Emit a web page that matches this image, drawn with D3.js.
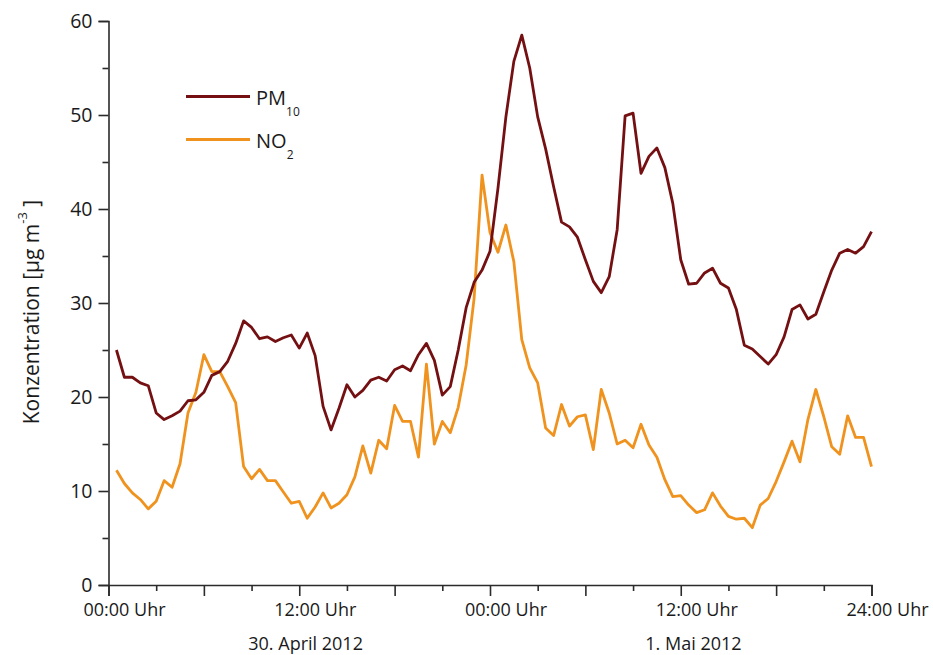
<!DOCTYPE html>
<html>
<head>
<meta charset="utf-8">
<script src="https://cdn.jsdelivr.net/npm/d3@7"></script>
<style>
  html, body { margin: 0; padding: 0; background: #fff; }
  svg { display: block; }
  text { font-family: "Open Sans", "DejaVu Sans", sans-serif; fill: #1a1a1a; }
</style>
</head>
<body>
<svg id="chart" width="933" height="655"></svg>
<script>
// ---- data (hours since 30 April 2012 00:00, half-hourly) ----
const hours = [
  0.5, 1, 1.5, 2, 2.5, 3, 3.5, 4, 4.5, 5, 5.5, 6, 6.5, 7, 7.5, 8,
  8.5, 9, 9.5, 10, 10.5, 11, 11.5, 12, 12.5, 13, 13.5, 14, 14.5, 15, 15.5, 16,
  16.5, 17, 17.5, 18, 18.5, 19, 19.5, 20, 20.5, 21, 21.5, 22, 22.5, 23, 23.5, 24,
  24.5, 25, 25.5, 26, 26.5, 27, 27.5, 28, 28.5, 29, 29.5, 30, 30.5, 31, 31.5, 32,
  32.5, 33, 33.5, 34, 34.5, 35, 35.5, 36, 36.5, 37, 37.5, 38, 38.5, 39, 39.5, 40,
  40.5, 41, 41.5, 42, 42.5, 43, 43.5, 44, 44.5, 45, 45.5, 46, 46.5, 47, 47.5, 48
];
const pm10 = [
  25.0, 22.1, 22.1, 21.5, 21.2, 18.3, 17.6, 18.0, 18.5, 19.6, 19.7, 20.5, 22.3, 22.7, 23.8, 25.7,
  28.1, 27.4, 26.2, 26.4, 25.9, 26.3, 26.6, 25.2, 26.8, 24.4, 19.0, 16.5, 18.8, 21.3, 20.0, 20.7,
  21.8, 22.1, 21.7, 22.9, 23.3, 22.8, 24.5, 25.7, 23.9, 20.2, 21.1, 25.0, 29.5, 32.2, 33.5, 35.5,
  42.2, 49.8, 55.7, 58.5, 55.0, 49.8, 46.4, 42.4, 38.6, 38.1, 37.0, 34.6, 32.3, 31.1, 32.8, 37.8,
  49.9, 50.2, 43.8, 45.6, 46.5, 44.4, 40.6, 34.6, 32.0, 32.1, 33.2, 33.7, 32.1, 31.6, 29.3, 25.5,
  25.1, 24.3, 23.5, 24.5, 26.4, 29.3, 29.8, 28.3, 28.8, 31.2, 33.5, 35.3, 35.7, 35.3, 36.0, 37.6
];
const no2 = [
  12.2, 10.8, 9.8, 9.1, 8.1, 8.9, 11.1, 10.4, 12.9, 18.3, 20.5, 24.5, 22.7, 22.7, 21.1, 19.4,
  12.6, 11.3, 12.3, 11.1, 11.1, 9.9, 8.7, 8.9, 7.1, 8.3, 9.8, 8.2, 8.7, 9.6, 11.5, 14.8,
  11.9, 15.4, 14.5, 19.1, 17.4, 17.4, 13.6, 23.5, 15.0, 17.4, 16.2, 18.9, 23.4, 30.5, 43.6, 37.5,
  35.4, 38.3, 34.4, 26.1, 23.1, 21.5, 16.7, 15.9, 19.2, 16.9, 17.9, 18.1, 14.4, 20.8, 18.3, 15.0,
  15.4, 14.6, 17.1, 14.9, 13.6, 11.2, 9.4, 9.5, 8.5, 7.7, 8.0, 9.8, 8.4, 7.3, 7.0, 7.1,
  6.1, 8.5, 9.2, 11.0, 13.1, 15.3, 13.1, 17.6, 20.8, 17.9, 14.7, 13.9, 18.0, 15.7, 15.7, 12.6
];
const xMajorTicks = [0, 6, 12, 18, 24, 30, 36, 42, 48];
const xMinorTicks = [3, 9, 15, 21, 27, 33, 39, 45];
const xLabelTicks = [0, 12, 24, 36, 48];
const xTickLabels = ["00:00 Uhr", "12:00 Uhr", "00:00 Uhr", "12:00 Uhr", "24:00 Uhr"];
const dayLabels = ["30. April 2012", "1. Mai 2012"];
const dayLabelHours = [12.4, 36.8];
const yMajorTicks = [0, 10, 20, 30, 40, 50, 60];
const yMinorTicks = [5, 15, 25, 35, 45, 55];

const colors = { pm10: "#741012", no2: "#f0921e" };

// ---- layout ----
const svg = d3.select("#chart");
const x = d3.scaleLinear().domain([0, 48]).range([108.5, 871.5]);
const y = d3.scaleLinear().domain([0, 60]).range([585, 21]);

const axisColor = "#2b2b2b";

// X axis: major ticks
const gx = svg.append("g").attr("transform", `translate(0,${y(0)})`);
gx.call(d3.axisBottom(x).tickValues(xMajorTicks).tickSize(11).tickFormat(""));
gx.call(g => g.select(".domain").attr("stroke", axisColor).attr("stroke-width", 1.6));
gx.selectAll(".tick line").attr("stroke", axisColor).attr("stroke-width", 1.6);
const gxm = svg.append("g").attr("transform", `translate(0,${y(0)})`);
gxm.call(d3.axisBottom(x).tickValues(xMinorTicks).tickSize(6).tickFormat(""));
gxm.select(".domain").remove();
gxm.selectAll(".tick line").attr("stroke", axisColor).attr("stroke-width", 1.6);

// X labels
svg.append("g").selectAll("text").data(xLabelTicks).join("text")
  .attr("x", d => x(d) + 16)
  .attr("y", 616)
  .attr("text-anchor", "middle")
  .attr("font-size", 18)
  .text((d, i) => xTickLabels[i]);

svg.append("g").selectAll("text").data(dayLabels).join("text")
  .attr("x", (d, i) => x(dayLabelHours[i]))
  .attr("y", 650)
  .attr("text-anchor", "middle")
  .attr("font-size", 18)
  .text(d => d);

// Y axis
const gy = svg.append("g").attr("transform", `translate(${x(0)},0)`);
gy.call(d3.axisLeft(y).tickValues(yMajorTicks).tickSize(10).tickPadding(6).tickFormat(d3.format("d")));
gy.select(".domain").attr("stroke", axisColor).attr("stroke-width", 1.6);
gy.selectAll(".tick line").attr("stroke", axisColor).attr("stroke-width", 1.6);
gy.selectAll(".tick text").attr("font-size", 19.5).attr("font-family", '"Open Sans", sans-serif').attr("fill", "#1a1a1a");
const gym = svg.append("g").attr("transform", `translate(${x(0)},0)`);
gym.call(d3.axisLeft(y).tickValues(yMinorTicks).tickSize(6).tickFormat(""));
gym.select(".domain").remove();
gym.selectAll(".tick line").attr("stroke", axisColor).attr("stroke-width", 1.6);

// Y title
const yt = svg.append("text")
  .attr("transform", "translate(39,312) rotate(-90)")
  .attr("text-anchor", "middle")
  .attr("font-size", 21);
yt.append("tspan").text("Konzentration [µg m");
yt.append("tspan").attr("dy", -12).attr("font-size", 13).text("-3");
yt.append("tspan").attr("dy", 12).text(" ]");

// Lines
const line = d3.line().x((d, i) => x(hours[i])).y(d => y(d));
svg.append("path").datum(no2)
  .attr("fill", "none").attr("stroke", colors.no2).attr("stroke-width", 2.8)
  .attr("stroke-linejoin", "round").attr("d", line);
svg.append("path").datum(pm10)
  .attr("fill", "none").attr("stroke", colors.pm10).attr("stroke-width", 2.8)
  .attr("stroke-linejoin", "round").attr("d", line);

// Legend
const legend = [
  { key: "pm10", main: "PM", sub: "10", y: 96.5 },
  { key: "no2", main: "NO", sub: "2", y: 139.5 }
];
const lg = svg.append("g");
lg.selectAll("line").data(legend).join("line")
  .attr("x1", 186).attr("x2", 250)
  .attr("y1", d => d.y).attr("y2", d => d.y)
  .attr("stroke", d => colors[d.key]).attr("stroke-width", 3);
const lt = lg.selectAll("text").data(legend).join("text")
  .attr("x", 256).attr("y", d => d.y + 8)
  .attr("font-size", 20);
lt.append("tspan").text(d => d.main);
lt.append("tspan").attr("dy", 11).attr("font-size", 12).text(d => d.sub);
</script>
</body>
</html>
